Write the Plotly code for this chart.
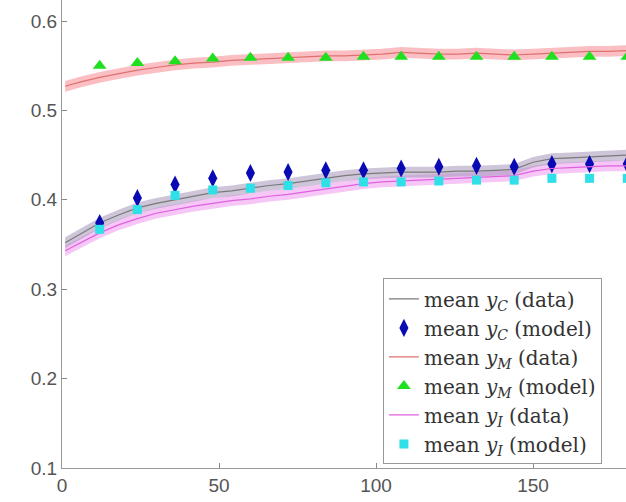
import plotly.graph_objects as go

# ---- data ----
t_data = [1, 6, 12, 18, 24, 30, 36, 42, 48, 54, 60, 66, 72, 78, 84, 90, 96, 102,
          108, 114, 120, 126, 132, 138, 144, 150, 156, 162, 168, 174, 180]
yM_data = [0.527, 0.532, 0.537, 0.541, 0.545, 0.548, 0.551, 0.553, 0.554, 0.556, 0.557,
           0.558, 0.559, 0.560, 0.561, 0.561, 0.562, 0.563, 0.565, 0.564, 0.563, 0.563,
           0.564, 0.563, 0.562, 0.563, 0.564, 0.565, 0.566, 0.566, 0.567]
yC_data = [0.352, 0.362, 0.374, 0.383, 0.391, 0.396, 0.400, 0.404, 0.408, 0.410, 0.413,
           0.416, 0.418, 0.421, 0.424, 0.427, 0.429, 0.430, 0.431, 0.431, 0.431, 0.432,
           0.432, 0.433, 0.434, 0.442, 0.446, 0.447, 0.448, 0.449, 0.450]
yI_data = [0.343, 0.352, 0.363, 0.372, 0.379, 0.385, 0.389, 0.393, 0.396, 0.399, 0.401,
           0.404, 0.406, 0.409, 0.412, 0.415, 0.418, 0.420, 0.421, 0.422, 0.423, 0.424,
           0.425, 0.426, 0.427, 0.432, 0.435, 0.436, 0.437, 0.438, 0.438]
band_halfwidth = [0.006, 0.006, 0.006]  # M, C, I

t_model = [12, 24, 36, 48, 60, 72, 84, 96, 108, 120, 132, 144, 156, 168, 180]
yC_model = [0.374, 0.402, 0.417, 0.424, 0.430, 0.431, 0.433, 0.433, 0.435, 0.437,
            0.438, 0.437, 0.440, 0.440, 0.440]
yM_model = [0.550, 0.553, 0.555, 0.558, 0.559, 0.559, 0.559, 0.560, 0.560, 0.560,
            0.560, 0.560, 0.560, 0.560, 0.560]
yI_model = [0.367, 0.389, 0.405, 0.411, 0.413, 0.416, 0.419, 0.420, 0.420, 0.421,
            0.422, 0.422, 0.424, 0.424, 0.424]

x_ticks = [0, 50, 100, 150]
y_ticks = [0.1, 0.2, 0.3, 0.4, 0.5, 0.6]

fig = go.Figure()

def band(y, hw, color):
    up = [v + hw for v in y]
    lo = [v - hw for v in y]
    fig.add_trace(go.Scatter(x=t_data + t_data[::-1], y=up + lo[::-1], fill="toself",
                             fillcolor=color, line=dict(width=0), mode="lines",
                             showlegend=False, hoverinfo="skip"))

band(yM_data, band_halfwidth[0], "rgba(250,170,175,0.75)")
band(yI_data, band_halfwidth[2], "rgba(240,160,240,0.6)")
band(yC_data, band_halfwidth[1], "rgba(165,150,185,0.55)")

lab = lambda s, k: f"mean <i>y</i><sub><i>{s}</i></sub> ({k})"

fig.add_trace(go.Scatter(x=t_data, y=yC_data, mode="lines", name=lab("C", "data"),
                         legendgroup="a", line=dict(color="#7a7a7a", width=1.2)))
fig.add_trace(go.Scatter(x=t_model, y=yC_model, mode="markers", name=lab("C", "model"),
                         legendgroup="b",
                         marker=dict(symbol="diamond-tall", size=13, color="#0a0ab4")))
fig.add_trace(go.Scatter(x=t_data, y=yM_data, mode="lines", name=lab("M", "data"),
                         legendgroup="c", line=dict(color="#e07070", width=1.2)))
fig.add_trace(go.Scatter(x=t_model, y=yM_model, mode="markers", name=lab("M", "model"),
                         legendgroup="d",
                         marker=dict(symbol="triangle-up", size=12, color="#1ee01e")))
fig.add_trace(go.Scatter(x=t_data, y=yI_data, mode="lines", name=lab("I", "data"),
                         legendgroup="e", line=dict(color="#e060e0", width=1.2)))
fig.add_trace(go.Scatter(x=t_model, y=yI_model, mode="markers", name=lab("I", "model"),
                         legendgroup="f",
                         marker=dict(symbol="square", size=9, color="#30e0e8")))

tick_font = dict(family="Liberation Sans, Arial", size=19, color="#555555")

fig.update_layout(
    width=626, height=502,
    margin=dict(l=62, r=0, t=0, b=34),
    plot_bgcolor="white", paper_bgcolor="white",
    font=tick_font,
    showlegend=True,
    legend=dict(x=0.569, y=0.405, xanchor="left", yanchor="top",
                bgcolor="white", bordercolor="#999999", borderwidth=1,
                font=dict(family="DejaVu Serif", size=20, color="#333333"),
                traceorder="grouped", tracegroupgap=0),
)
fig.update_xaxes(range=[0, 179.6], tickvals=x_ticks, ticks="inside", ticklen=5,
                 tickfont=tick_font,
                 tickcolor="#888888", showline=True, linecolor="#999999", linewidth=1,
                 showgrid=False, zeroline=False)
fig.update_yaxes(range=[0.1, 0.6235], tickvals=y_ticks, ticktext=[str(v) for v in y_ticks],
                 tickfont=tick_font,
                 ticks="inside", ticklen=5, tickcolor="#888888", showline=True,
                 linecolor="#999999", linewidth=1, showgrid=False, zeroline=False)

fig.write_html("out.html")
